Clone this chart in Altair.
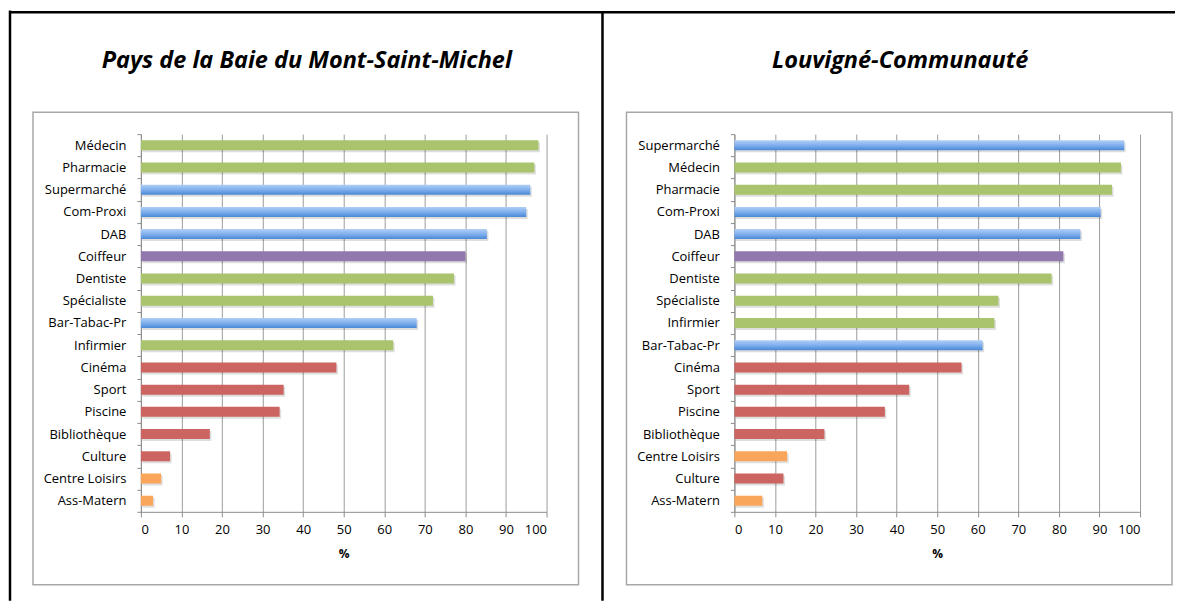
import altair as alt
import pandas as pd

# ---- data ----
left_title = "Pays de la Baie du Mont-Saint-Michel"
left_cats = ["Médecin", "Pharmacie", "Supermarché", "Com-Proxi", "DAB", "Coiffeur",
             "Dentiste", "Spécialiste", "Bar-Tabac-Pr", "Infirmier", "Cinéma", "Sport",
             "Piscine", "Bibliothèque", "Culture", "Centre Loisirs", "Ass-Matern"]
left_vals = [98, 97, 96, 95, 85.3, 80, 77.2, 72, 68, 62.2, 48.2, 35.2, 34.2, 17, 7.2, 5, 3]

right_title = "Louvigné-Communauté"
right_cats = ["Supermarché", "Médecin", "Pharmacie", "Com-Proxi", "DAB", "Coiffeur",
              "Dentiste", "Spécialiste", "Infirmier", "Bar-Tabac-Pr", "Cinéma", "Sport",
              "Piscine", "Bibliothèque", "Centre Loisirs", "Culture", "Ass-Matern"]
right_vals = [96.1, 95.3, 93.1, 90.3, 85.3, 81.1, 78.2, 65.1, 64.1, 61.2, 56, 43.1,
              37.1, 22.2, 13, 12.1, 6.9]

group_names = ["Santé", "Commerces", "Services", "Loisirs", "Enfance"]
group_colors = ["#a9c46c", "#6fa0e0", "#9179ae", "#cc6461", "#f9a65a"]
cat_group = {
    "Médecin": "Santé", "Pharmacie": "Santé", "Dentiste": "Santé",
    "Spécialiste": "Santé", "Infirmier": "Santé",
    "Supermarché": "Commerces", "Com-Proxi": "Commerces", "DAB": "Commerces",
    "Bar-Tabac-Pr": "Commerces",
    "Coiffeur": "Services",
    "Cinéma": "Loisirs", "Sport": "Loisirs", "Piscine": "Loisirs",
    "Bibliothèque": "Loisirs", "Culture": "Loisirs",
    "Centre Loisirs": "Enfance", "Ass-Matern": "Enfance",
}

W, H = 406, 378
LABEL_FONT = "Open Sans"
blue_gradient = {
    "gradient": "linear", "x1": 0, "y1": 0, "x2": 0, "y2": 1,
    "stops": [
        {"offset": 0, "color": "#b0cff6"},
        {"offset": 0.5, "color": "#80b0ee"},
        {"offset": 1, "color": "#4a88d6"},
    ],
}


def panel(cats, vals, title, extra=None):
    df = pd.DataFrame({"cat": cats, "val": vals, "grp": [cat_group[c] for c in cats]})
    y = alt.Y("cat:N", sort=cats, title=None,
              scale=alt.Scale(paddingInner=0, paddingOuter=0),
              axis=alt.Axis(tickBand="extent", tickSize=4, labelPadding=11,
                            domainColor="#8c8c8c", tickColor="#8c8c8c",
                            labelFont=LABEL_FONT, labelFontSize=13, labelColor="#000",
                            grid=False))
    x = alt.X("val:Q", scale=alt.Scale(domain=[0, 100], nice=False),
              axis=alt.Axis(values=list(range(0, 101, 10)), title="%", grid=True,
                            gridColor="#9c9c9c", gridWidth=1,
                            domainColor="#8c8c8c", tickColor="#8c8c8c", tickSize=5,
                            labelFont=LABEL_FONT, labelFontSize=13, labelColor="#000",
                            labelPadding=7, titleFont=LABEL_FONT, titleFontSize=12,
                            titleFontWeight="bold", titlePadding=12, titleColor="#000"))
    base = alt.Chart(df)
    shadow = base.mark_bar(size=10, color="#000", opacity=0.13, xOffset=1.5, yOffset=2).encode(x=x, y=y)
    solid = base.transform_filter(alt.datum.grp != "Commerces").mark_bar(size=10).encode(
        x=x, y=y,
        color=alt.Color("grp:N", scale=alt.Scale(domain=group_names, range=group_colors), legend=None),
    )
    blue = base.transform_filter(alt.datum.grp == "Commerces").mark_bar(size=10, color=blue_gradient).encode(x=x, y=y)

    one = alt.Chart(pd.DataFrame({"k": [0]}))
    box = one.mark_rect(filled=False, stroke="#a8a8a8", strokeWidth=1.5).encode(
        x=alt.value(-108), x2=alt.value(438), y=alt.value(-22), y2=alt.value(451))
    ttl = one.mark_text(font="Open Sans", fontSize=23.5, fontStyle="italic", fontWeight="bold",
                        align="center", baseline="alphabetic", color="#000").encode(
        x=alt.value(166), y=alt.value(-66), text=alt.value(title))
    layers = [box, ttl, shadow, solid, blue]
    if extra:
        layers = extra + layers
    return alt.layer(*layers).properties(width=W, height=H)


one = alt.Chart(pd.DataFrame({"k": [0]}))
frame_left = one.mark_rule(color="#000", strokeWidth=2.5).encode(
    x=alt.value(-131), y=alt.value(-123.75), y2=alt.value(467))
frame_top = one.mark_rule(color="#000", strokeWidth=2.5).encode(
    x=alt.value(-131), x2=alt.value(1035), y=alt.value(-122))
frame_mid = one.mark_rule(color="#000", strokeWidth=2.5).encode(
    x=alt.value(462), y=alt.value(-122), y2=alt.value(467))

left = panel(left_cats, left_vals, left_title, [frame_left, frame_top, frame_mid])
right = panel(right_cats, right_vals, right_title)

chart = alt.hconcat(left, right, spacing=188, bounds="flush").properties(
    padding=0, background="white"
).configure_view(stroke="transparent")

chart.save("out.html", embed_options={"renderer": "svg", "actions": False})
